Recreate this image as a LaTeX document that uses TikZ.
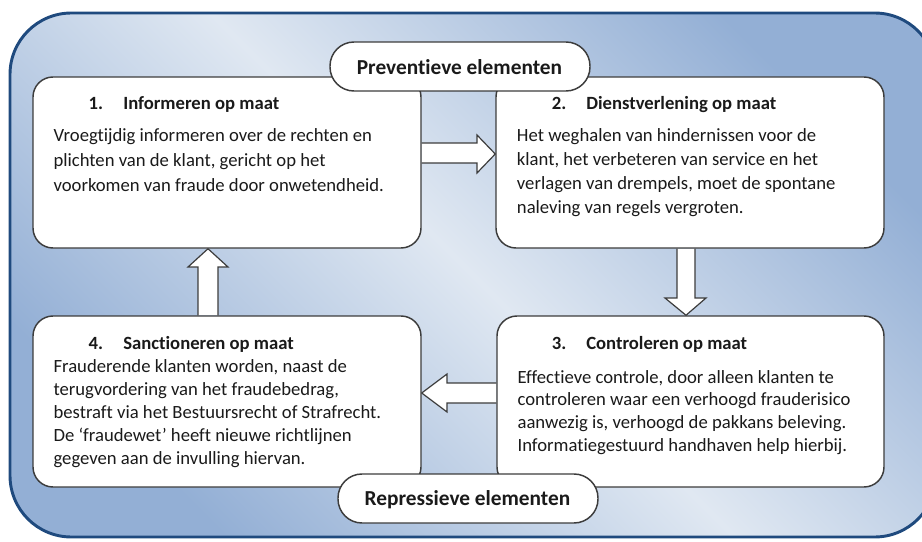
\documentclass[tikz,border=0pt]{standalone}
\usepackage{fontspec}
\setmainfont{Carlito}[Ligatures=NoCommon]
\usetikzlibrary{fit,calc}
\definecolor{outerdark}{HTML}{93AFD5}
\definecolor{outerlight}{HTML}{E0E8F2}
\definecolor{outerline}{HTML}{1F4A7E}
\definecolor{boxline}{HTML}{3C3C3C}
\definecolor{txt}{HTML}{1A1A1A}
\pgfdeclarelayer{back}
\pgfdeclarelayer{mid}
\pgfsetlayers{back,mid,main}
\begin{document}
\begin{tikzpicture}[x=0.75pt,y=-0.75pt,
 box/.style={draw=boxline, line width=1.1pt, fill=white, rounded corners=15pt, inner sep=0pt},
 pill/.style={draw=boxline, line width=1.1pt, fill=white, rounded corners=18pt, inner sep=0pt},
 blockarrow/.style={draw=boxline, line width=0.9pt, fill=white, line join=miter},
 head/.style={font=\bfseries\fontsize{14}{16}\selectfont, text=txt, anchor=base west, inner sep=0pt},
 body/.style={anchor=base west, inner sep=0pt, text=txt},
 pilltext/.style={font=\bfseries\fontsize{16}{18}\selectfont, text=txt, anchor=base, inner sep=0pt}]
\useasboundingbox (0,0) rectangle (922,542);
\begin{pgfonlayer}{back}
\begin{scope}
\clip (0,0) rectangle (922,542);
\draw[top color=outerdark, bottom color=outerdark, middle color=outerlight, shading angle=-45,
  draw=outerline, line width=2.2pt, rounded corners=46pt] (10,13) rectangle (936,537);
\end{scope}
\end{pgfonlayer}

% boxes
\node[box, fit={(33,77) (421,248)}] (b1) {};
\node[box, fit={(496,77) (884,248)}] (b2) {};
\node[box, fit={(497,316) (884,487)}] (b3) {};
\node[box, fit={(33,316) (421,487)}] (b4) {};

% pills
\node[pill, fit={(330,42) (590,91)}] (p1) {};
\node[pill, fit={(338,474) (598,523)}] (p2) {};
\node[pilltext] (p1t) at (459.5,75) {Preventieve elementen};
\node[pilltext] (p2t) at (467.5,505) {Repressieve elementen};

% block arrows
\begin{pgfonlayer}{mid}
\draw[blockarrow] (b1.east |- 0,143) -- (477,143) -- (477,135) -- (b2.west |- 0,154)
  -- (477,173) -- (477,163) -- (b1.east |- 0,163);
\draw[blockarrow] (677,0 |- b2.south) -- (677,298) -- (665,298) -- (686,0 |- b3.north)
  -- (706,298) -- (695,298) -- (695,0 |- b2.south);
\draw[blockarrow] (b3.west |- 0,383) -- (447,383) -- (447,374) -- (b4.east |- 0,393)
  -- (447,412) -- (447,403) -- (b3.west |- 0,403);
\draw[blockarrow] (198,0 |- b4.north) -- (198,267) -- (188,267) -- (208,0 |- b1.south)
  -- (228,267) -- (218,267) -- (218,0 |- b4.north);
\end{pgfonlayer}

% headings
\node[head] (h1n) at (88.3,110) {1.};
\node[head] (h1) at (123,110) {Informeren op maat};
\node[head] (h2n) at (551.7,110) {2.};
\node[head] (h2) at (586,110) {Dienstverlening op maat};
\node[head] (h3n) at (551.7,349) {3.};
\node[head] (h3) at (586,349) {Controleren op maat};
\node[head] (h4n) at (88.3,349) {4.};
\node[head] (h4) at (123,349) {Sanctioneren op maat};

% body texts
\node[body] (t1) at (53.3,141.7) {\parbox[t]{330pt}{\fontsize{14}{18.6}\selectfont\raggedright
Vroegtijdig informeren over de rechten en\\
plichten van de klant, gericht op het\\
voorkomen van fraude door onwetendheid.}};
\node[body] (t2) at (516.7,141.7) {\parbox[t]{330pt}{\fontsize{14}{17.9}\selectfont\raggedright
Het weghalen van hindernissen voor de\\
klant, het verbeteren van service en het\\
verlagen van drempels, moet de spontane\\
naleving van regels vergroten.}};
\node[body] (t3) at (517.3,383) {\parbox[t]{330pt}{\fontsize{14}{17.1}\selectfont\raggedright
Effectieve controle, door alleen klanten te\\
controleren waar een verhoogd frauderisico\\
aanwezig is, verhoogd de pakkans beleving.\\
Informatiegestuurd handhaven help hierbij.}};
\node[body] (t4) at (53.3,372) {\parbox[t]{330pt}{\fontsize{14}{17.4}\selectfont\raggedright
Frauderende klanten worden, naast de\\
terugvordering van het fraudebedrag,\\
bestraft via het Bestuursrecht of Strafrecht.\\
De ‘fraudewet’ heeft nieuwe richtlijnen\\
gegeven aan de invulling hiervan.}};
\end{tikzpicture}
\end{document}
